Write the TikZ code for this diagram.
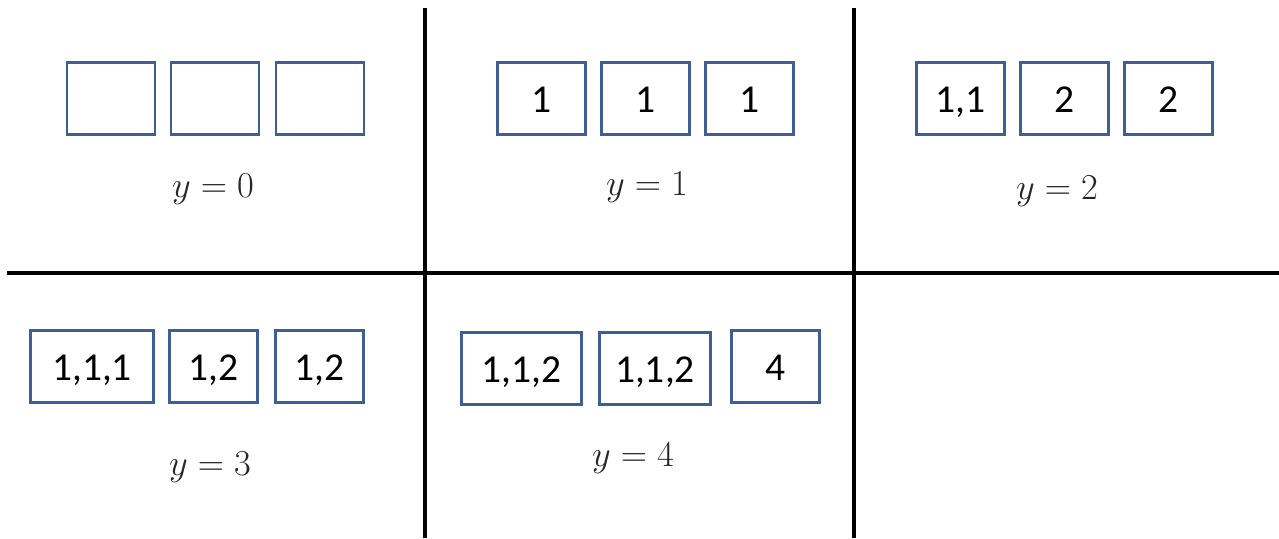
\documentclass[tikz,border=0pt]{standalone}
\usepackage{fontspec}
\usepackage{amsmath}
\usepackage{xcolor}
\usepackage{tikz}
\usetikzlibrary{positioning}
\newfontfamily\cellfont{Carlito}
\definecolor{cellblue}{RGB}{62,94,148}
\tikzset{
  cell/.style={rectangle,draw=cellblue,line width=1.6pt,outer sep=0pt,minimum width=1.76cm,minimum height=1.44cm,inner sep=0pt,text height=16pt,text depth=0.5pt,font=\cellfont\fontsize{22.5}{26}\selectfont},
  caption/.style={anchor=base,inner sep=0pt,text=black!85,font=\fontsize{22}{26}\selectfont},
  divider/.style={line width=1.8pt,black}
}

\begin{document}
\begin{tikzpicture}[x=0.02cm,y=-0.02cm]
  \useasboundingbox (0,0) rectangle (1279,538);
  % grid lines
  \draw[divider] (425,8) -- (425,538);
  \draw[divider] (854,8) -- (854,538);
  \draw[divider] (7,273) -- (1279,273);
  % y = 0
  \node[cell] (A1) at (111,98.5) {};
  \node[cell, right=0.32cm of A1] (A2) {};
  \node[cell, right=0.34cm of A2] (A3) {};
  \node[caption] (Ay) at (213,197) {$y=0$};
  % y = 1
  \node[cell] (B1) at (541.5,98.5) {1};
  \node[cell, right=0.32cm of B1] (B2) {1};
  \node[cell, right=0.32cm of B2] (B3) {1};
  \node[caption] (By) at (647,195) {$y=1$};
  % y = 2
  \node[cell] (C1) at (960.5,98.5) {1,1};
  \node[cell, right=0.32cm of C1] (C2) {2};
  \node[cell, right=0.32cm of C2] (C3) {2};
  \node[caption] (Cy) at (1057,199) {$y=2$};
  % y = 3
  \node[cell, minimum width=2.46cm] (D1) at (92,366.5) {1,1,1};
  \node[cell, right=0.32cm of D1] (D2) {1,2};
  \node[cell, right=0.36cm of D2] (D3) {1,2};
  \node[caption] (Dy) at (210,475) {$y=3$};
  % y = 4
  \node[cell, minimum width=2.4cm] (E1) at (521.5,368.5) {1,1,2};
  \node[cell, minimum width=2.22cm, right=0.36cm of E1] (E2) {1,1,2};
  \node[cell, right=0.42cm of E2, yshift=0.04cm] (E3) {4};
  \node[caption] (Ey) at (633,466) {$y=4$};
\end{tikzpicture}
\end{document}
